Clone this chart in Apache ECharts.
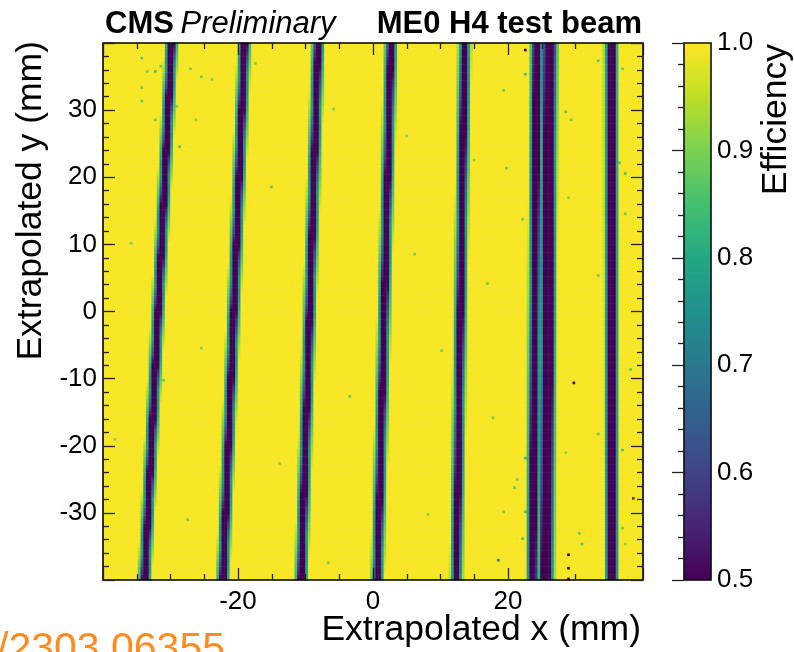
<!DOCTYPE html>
<html>
<head>
<meta charset="utf-8">
<script src="https://cdn.jsdelivr.net/npm/echarts@6/dist/echarts.min.js"></script>
<style>
  html, body { margin: 0; padding: 0; background: #fff; }
  #chart { width: 794px; height: 652px; }
</style>
</head>
<body>
<div id="chart"></div>
<script>
// ---- Efficiency map of the ME0 chamber (extrapolated track position) ----

// Histogram range and bin size (mm)
const X_RANGE = [-40, 40];
const Y_RANGE = [-40, 40];
const BIN_SIZE = 0.4;

// Efficiency in the active area
const BASE_EFF = 0.995;

// Inefficient gaps between readout sectors: x position (mm) at the top (y = +40)
// and at the bottom (y = -40) of the map, and the width of the dead core (mm)
const gapTopX    = [-29.8, -19.0, -8.1, 2.7, 13.6, 24.3, 26.2, 35.3];
const gapBottomX = [-33.8, -22.2, -10.6, 0.7, 12.4, 23.7, 25.7, 35.4];
const gapCoreWidth = [0.78, 0.78, 0.78, 0.78, 0.78, 0.85, 1.4, 0.98];
const gapCoreEff = 0.2;
// Partly efficient band on each side of a gap core: width (mm) and efficiency
const gapEdgeWidth = 0.5;
const gapEdgeEff = 0.76;

// Isolated low-efficiency bins: [x (mm), y (mm), efficiency]
const isolatedBins = [
  [22.8, 39.1, 0.5], [29.8, -10.8, 0.5], [28.9, -36.4, 0.5], [28.9, -38.3, 0.5],
  [28.9, -39.6, 0.5], [38.8, -27.9, 0.6], [18.8, -37.0, 0.72],
  [-34.1, 33.3, 0.88], [-25.3, 35.1, 0.88], [-23.7, 34.5, 0.9], [-34.1, 37.9, 0.88],
  [-32.3, 35.8, 0.86], [-33.3, 35.7, 0.9], [-31.3, 36.7, 0.88], [-27.1, 36.0, 0.9],
  [-34.1, 31.2, 0.88], [-26.1, 28.8, 0.9], [-32.3, 28.8, 0.88], [-28.6, 24.5, 0.86],
  [-29.0, 30.5, 0.9], [22.5, 35.5, 0.84], [19.9, 21.5, 0.88], [28.4, 29.7, 0.86],
  [29.5, 28.5, 0.88], [33.2, 37.5, 0.88], [37.0, 36.3, 0.9], [36.6, 22.1, 0.88],
  [37.3, 20.6, 0.86], [37.6, 14.7, 0.88], [28.9, 17.1, 0.9], [22.2, 13.6, 0.88],
  [22.5, -21.7, 0.84], [21.5, -25.1, 0.88], [22.5, -29.6, 0.86], [21.0, -26.3, 0.88],
  [30.7, -33.0, 0.88], [28.4, -20.9, 0.9], [33.2, -18.4, 0.88], [37.0, -20.6, 0.86],
  [36.9, -32.1, 0.88], [37.3, -34.8, 0.9], [22.2, -33.8, 0.86], [19.3, -29.6, 0.88],
  [31.0, -34.5, 0.86], [-36.0, 10.2, 0.9], [-25.5, -5.3, 0.9], [-15.2, 18.4, 0.88],
  [-14.0, -22.7, 0.9], [-5.6, 30.1, 0.9], [-3.2, -12.5, 0.88], [6.4, 8.8, 0.9],
  [8.1, -30.4, 0.9], [16.9, 4.2, 0.88], [17.8, -15.6, 0.9], [-38.1, -18.9, 0.9],
  [-27.4, -31.2, 0.88], [-17.3, 36.9, 0.9], [-6.8, -37.5, 0.88], [4.9, 26.3, 0.9],
  [10.2, -5.9, 0.9], [19.5, 33.1, 0.88], [33.6, 5.4, 0.9], [38.2, -8.7, 0.88],
  [-20.7, 8.3, 0.9], [1.4, -25.0, 0.9], [-9.9, 12.7, 0.88], [14.9, 22.8, 0.9],
  [-31.0, -10.4, 0.88]
];

// Colour scale
const EFF_RANGE = [0.5, 1.0];
const viridis = ['#440154', '#482475', '#414487', '#355f8d', '#2a788e', '#21918c',
                 '#22a884', '#44bf70', '#7ad151', '#bddf26', '#fde725'];
const COLORBAR_STEPS = 179;

// Axis titles and labels
const xTitle = 'Extrapolated x (mm)';
const yTitle = 'Extrapolated y (mm)';
const zTitle = 'Efficiency';
const expLabel = 'CMS';
const expStatus = 'Preliminary';
const runLabel = 'ME0 H4 test beam';
const refLabel = '/2303.06355';

// ---- build the histogram bins ----
function overlap(a0, a1, b0, b1) {
  return Math.max(0, Math.min(a1, b1) - Math.max(a0, b0));
}

const nx = Math.round((X_RANGE[1] - X_RANGE[0]) / BIN_SIZE);
const ny = Math.round((Y_RANGE[1] - Y_RANGE[0]) / BIN_SIZE);
const eff = [];
for (let iy = 0; iy < ny; iy++) {
  const row = new Array(nx).fill(BASE_EFF);
  const yc = Y_RANGE[0] + (iy + 0.5) * BIN_SIZE;
  const t = (yc - Y_RANGE[0]) / (Y_RANGE[1] - Y_RANGE[0]);
  for (let s = 0; s < gapTopX.length; s++) {
    const xl = gapBottomX[s] + (gapTopX[s] - gapBottomX[s]) * t;
    const half = gapCoreWidth[s] / 2;
    const i0 = Math.max(0, Math.floor((xl - half - gapEdgeWidth - X_RANGE[0]) / BIN_SIZE) - 1);
    const i1 = Math.min(nx - 1, Math.ceil((xl + half + gapEdgeWidth - X_RANGE[0]) / BIN_SIZE) + 1);
    for (let ix = i0; ix <= i1; ix++) {
      const b0 = X_RANGE[0] + ix * BIN_SIZE, b1 = b0 + BIN_SIZE;
      const fCore = overlap(b0, b1, xl - half, xl + half) / BIN_SIZE;
      const fEdge = (overlap(b0, b1, xl - half - gapEdgeWidth, xl - half) +
                     overlap(b0, b1, xl + half, xl + half + gapEdgeWidth)) / BIN_SIZE;
      let v = BASE_EFF - fCore * (BASE_EFF - gapCoreEff) - fEdge * (BASE_EFF - gapEdgeEff);
      v = Math.max(EFF_RANGE[0], v);
      if (v < row[ix]) row[ix] = v;
    }
  }
  eff.push(row);
}
isolatedBins.forEach(([x, y, v]) => {
  const ix = Math.floor((x - X_RANGE[0]) / BIN_SIZE);
  const iy = Math.floor((y - Y_RANGE[0]) / BIN_SIZE);
  if (ix >= 0 && ix < nx && iy >= 0 && iy < ny) eff[iy][ix] = Math.min(eff[iy][ix], v);
});

const mapData = [];
for (let iy = 0; iy < ny; iy++)
  for (let ix = 0; ix < nx; ix++) mapData.push([ix, iy, eff[iy][ix]]);

const xBins = Array.from({ length: nx }, (_, i) => String(i));
const yBins = Array.from({ length: ny }, (_, i) => String(i));

// Colour bar bins
const barBins = Array.from({ length: COLORBAR_STEPS }, (_, i) => String(i));
const barData = barBins.map((_, i) =>
  [0, i, EFF_RANGE[0] + (i + 0.5) * (EFF_RANGE[1] - EFF_RANGE[0]) / COLORBAR_STEPS]);

// ---- layout ----
const FONT = 'Liberation Sans, Arial, Helvetica, sans-serif';
const PLOT = { left: 103, top: 43, width: 540, height: 537 };
const BAR = { left: 684, top: 43, width: 27, height: 537 };
const tickStyle = { color: '#222', width: 1.3 };

function frameAxis(extra) {
  return Object.assign({
    type: 'value',
    gridIndex: 1,
    z: 10,
    axisLine: { show: false, onZero: false },
    axisTick: { show: true, inside: true, length: 12, lineStyle: tickStyle },
    splitLine: { show: false },
    minorSplitLine: { show: false }
  }, extra);
}

const chart = echarts.init(document.getElementById('chart'), null, { renderer: 'canvas' });

chart.setOption({
  animation: false,
  backgroundColor: '#fff',
  grid: [
    Object.assign({ show: false }, PLOT),
    Object.assign({ show: true, z: 10, borderColor: '#000', borderWidth: 1.6,
                    backgroundColor: 'transparent' }, PLOT),
    Object.assign({ show: false }, BAR),
    Object.assign({ show: true, z: 10, borderColor: '#111', borderWidth: 1.6,
                    backgroundColor: 'transparent' }, BAR)
  ],
  xAxis: [
    { type: 'category', gridIndex: 0, data: xBins, show: false },
    frameAxis({ position: 'bottom', min: X_RANGE[0], max: X_RANGE[1], interval: 20,
                minorTick: { show: true, splitNumber: 4, length: 6, lineStyle: tickStyle },
                axisLabel: { show: true, color: '#000', fontSize: 26, fontFamily: FONT, margin: 9,
                             showMinLabel: false, showMaxLabel: false } }),
    frameAxis({ position: 'top', min: X_RANGE[0], max: X_RANGE[1], interval: 20,
                minorTick: { show: true, splitNumber: 4, length: 6, lineStyle: tickStyle },
                axisLabel: { show: false } }),
    { type: 'category', gridIndex: 2, data: ['0'], show: false },
    { type: 'value', gridIndex: 3, show: false, min: 0, max: 1 }
  ],
  yAxis: [
    { type: 'category', gridIndex: 0, data: yBins, show: false },
    frameAxis({ position: 'left', min: Y_RANGE[0], max: Y_RANGE[1], interval: 10,
                minorTick: { show: true, splitNumber: 5, length: 6, lineStyle: tickStyle },
                axisLabel: { show: true, color: '#000', fontSize: 26, fontFamily: FONT, margin: 6,
                             showMinLabel: false, showMaxLabel: false } }),
    frameAxis({ position: 'right', min: Y_RANGE[0], max: Y_RANGE[1], interval: 10,
                minorTick: { show: true, splitNumber: 5, length: 6, lineStyle: tickStyle },
                axisLabel: { show: false } }),
    { type: 'category', gridIndex: 2, data: barBins, show: false },
    {
      type: 'value', gridIndex: 3, position: 'right', z: 10,
      min: EFF_RANGE[0], max: EFF_RANGE[1], interval: 0.1,
      axisLine: { show: false },
      axisTick: { show: true, inside: true, length: 12, lineStyle: tickStyle },
      minorTick: { show: true, splitNumber: 5, length: 6, lineStyle: tickStyle },
      splitLine: { show: false },
      axisLabel: { show: true, color: '#000', fontSize: 26, fontFamily: FONT, margin: 6,
                   formatter: v => v.toFixed(1) }
    }
  ],
  visualMap: {
    type: 'continuous',
    show: false,
    min: EFF_RANGE[0],
    max: EFF_RANGE[1],
    seriesIndex: [0, 1],
    inRange: { color: viridis }
  },
  series: [
    {
      type: 'heatmap', xAxisIndex: 0, yAxisIndex: 0, data: mapData,
      progressive: 0, silent: true, emphasis: { disabled: true }
    },
    {
      type: 'heatmap', xAxisIndex: 3, yAxisIndex: 3, data: barData,
      progressive: 0, silent: true, emphasis: { disabled: true }
    }
  ],
  graphic: [
    {
      type: 'text', x: 105, y: 24,
      style: {
        text: '{b|' + expLabel + '}  {i|' + expStatus + '}',
        verticalAlign: 'middle', fill: '#000',
        rich: {
          b: { fontFamily: FONT, fontWeight: 'bold', fontSize: 31, fill: '#000' },
          i: { fontFamily: FONT, fontStyle: 'italic', fontSize: 31, fill: '#000' }
        }
      }
    },
    {
      type: 'text', x: 642, y: 24,
      style: { text: runLabel, align: 'right', verticalAlign: 'middle', fill: '#000',
               font: 'bold 31px ' + FONT }
    },
    {
      type: 'text', x: 641, y: 630,
      style: { text: xTitle, align: 'right', verticalAlign: 'middle', fill: '#000',
               font: '35.5px ' + FONT }
    },
    {
      type: 'text', x: 31, y: 41, rotation: Math.PI / 2,
      style: { text: yTitle, align: 'right', verticalAlign: 'middle', fill: '#000',
               font: '35.5px ' + FONT }
    },
    {
      type: 'text', x: 776, y: 44, rotation: Math.PI / 2,
      style: { text: zTitle, align: 'right', verticalAlign: 'middle', fill: '#000',
               font: '35.5px ' + FONT }
    },
    {
      type: 'text', x: -3, y: 650,
      style: { text: refLabel, align: 'left', verticalAlign: 'middle', fill: '#ff8a1f',
               font: '41px ' + FONT }
    }
  ]
});
</script>
</body>
</html>
